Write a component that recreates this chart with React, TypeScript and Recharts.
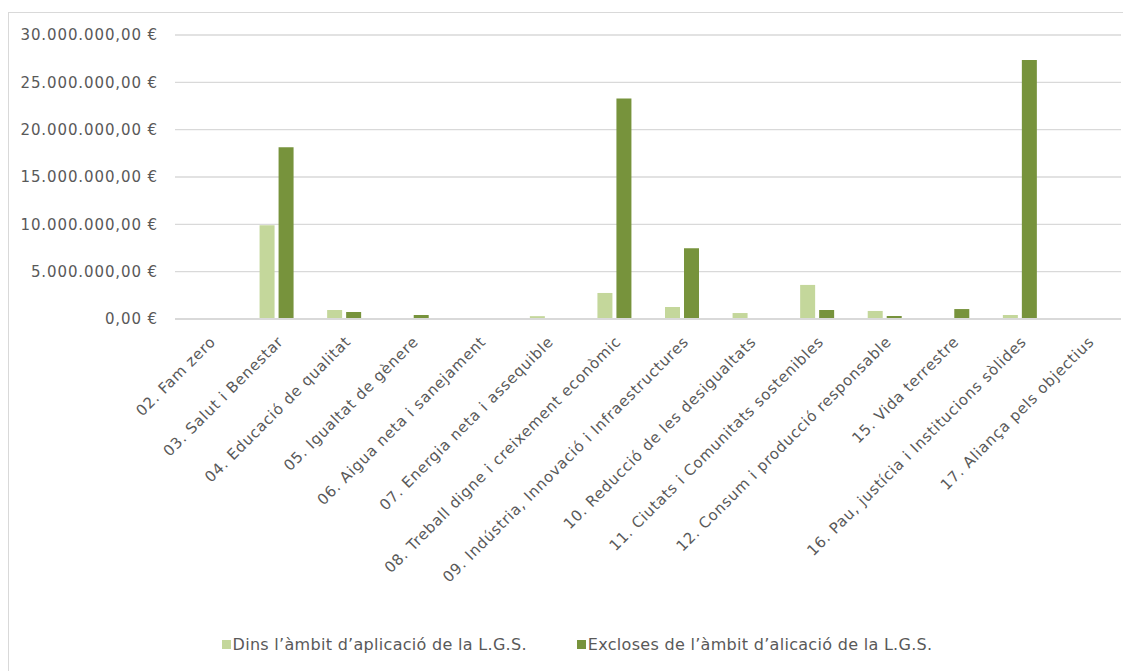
import React from "react";
import { BarChart, Bar, XAxis, YAxis, CartesianGrid, Legend } from "recharts";

const categories = [
  "02. Fam zero",
  "03. Salut i Benestar",
  "04. Educació de qualitat",
  "05. Igualtat de gènere",
  "06. Aigua neta i sanejament",
  "07. Energia neta i assequible",
  "08. Treball digne i creixement econòmic",
  "09. Indústria, Innovació i Infraestructures",
  "10. Reducció de les desigualtats",
  "11. Ciutats i Comunitats sostenibles",
  "12. Consum i producció responsable",
  "15. Vida terrestre",
  "16. Pau, justícia i Institucions sòlides",
  "17. Aliança pels objectius",
];

const dins = [0, 9900000, 950000, 0, 0, 300000, 2750000, 1270000, 630000, 3600000, 850000, 0, 420000, 0];
const excloses = [0, 18150000, 740000, 420000, 0, 0, 23300000, 7480000, 0, 950000, 320000, 1050000, 27350000, 0];

const yTicks = [0, 5000000, 10000000, 15000000, 20000000, 25000000, 30000000];

const seriesNames = [
  "Dins l\u2019àmbit d\u2019aplicació de la L.G.S.",
  "Excloses de l\u2019àmbit d\u2019alicació de la L.G.S.",
];
const colors = ["#C4D79B", "#77933C"];

const data = categories.map((c, i) => ({ name: c, dins: dins[i], excloses: excloses[i] }));

const FONT = "'DejaVu Sans', Verdana, sans-serif";
const TXT = "#595959";

const fmtEuro = (v: number) => {
  const intPart = Math.round(v).toString().replace(/\B(?=(\d{3})+(?!\d))/g, ".");
  return `${intPart},00 €`;
};

const YTick = (props: any) => {
  const { x, y, payload } = props;
  return (
    <text x={x} y={y} dy="0.35em" textAnchor="end" fill={TXT} fontFamily={FONT} fontSize={15} letterSpacing={0.9}>
      {fmtEuro(payload.value)}
    </text>
  );
};

const XTick = (props: any) => {
  const { x, y, payload } = props;
  return (
    <g transform={`translate(${x + 4},${y + 12})`}>
      <text x={0} y={0} dy="0.35em" textAnchor="end" transform="rotate(-45)" fill={TXT} fontFamily={FONT} fontSize={15} letterSpacing={0.7}>
        {payload.value}
      </text>
    </g>
  );
};

const LegendContent = () => (
  <div style={{ display: "flex", justifyContent: "center", alignItems: "center", fontFamily: FONT, fontSize: 16, color: TXT, letterSpacing: 0.3, paddingLeft: 24 }}>
    {seriesNames.map((n, i) => (
      <div key={n} style={{ display: "flex", alignItems: "center", marginRight: i === 0 ? 50 : 0 }}>
        <span style={{ display: "inline-block", width: 9, height: 9, background: colors[i], marginRight: 2 }} />
        <span>{n}</span>
      </div>
    ))}
  </div>
);

export default function App() {
  return (
    <div style={{ paddingTop: 4 }}>
      <div style={{ width: 1122, height: 670, borderLeft: "1px solid #d9d9d9", borderTop: "1px solid #d9d9d9", boxSizing: "border-box", background: "#fff" }}>
        <BarChart
          width={1120}
          height={646}
          data={data}
          margin={{ top: 22, right: 8, left: 0, bottom: 5 }}
          barSize={15}
          barGap={4}
        >
          <CartesianGrid vertical={false} stroke="#d9d9d9" strokeWidth={1.3} />
          <XAxis
            dataKey="name"
            interval={0}
            tick={<XTick />}
            tickLine={false}
            axisLine={{ stroke: "#d9d9d9", strokeWidth: 2 }}
            height={316}
          />
          <YAxis
            width={166}
            domain={[0, 30000000]}
            ticks={yTicks}
            tick={<YTick />}
            tickLine={false}
            tickSize={0}
            tickMargin={17}
            axisLine={false}
          />
          <Legend verticalAlign="bottom" content={<LegendContent />} />
          <Bar dataKey="dins" name={seriesNames[0]} fill={colors[0]} isAnimationActive={false} />
          <Bar dataKey="excloses" name={seriesNames[1]} fill={colors[1]} isAnimationActive={false} />
        </BarChart>
      </div>
    </div>
  );
}
